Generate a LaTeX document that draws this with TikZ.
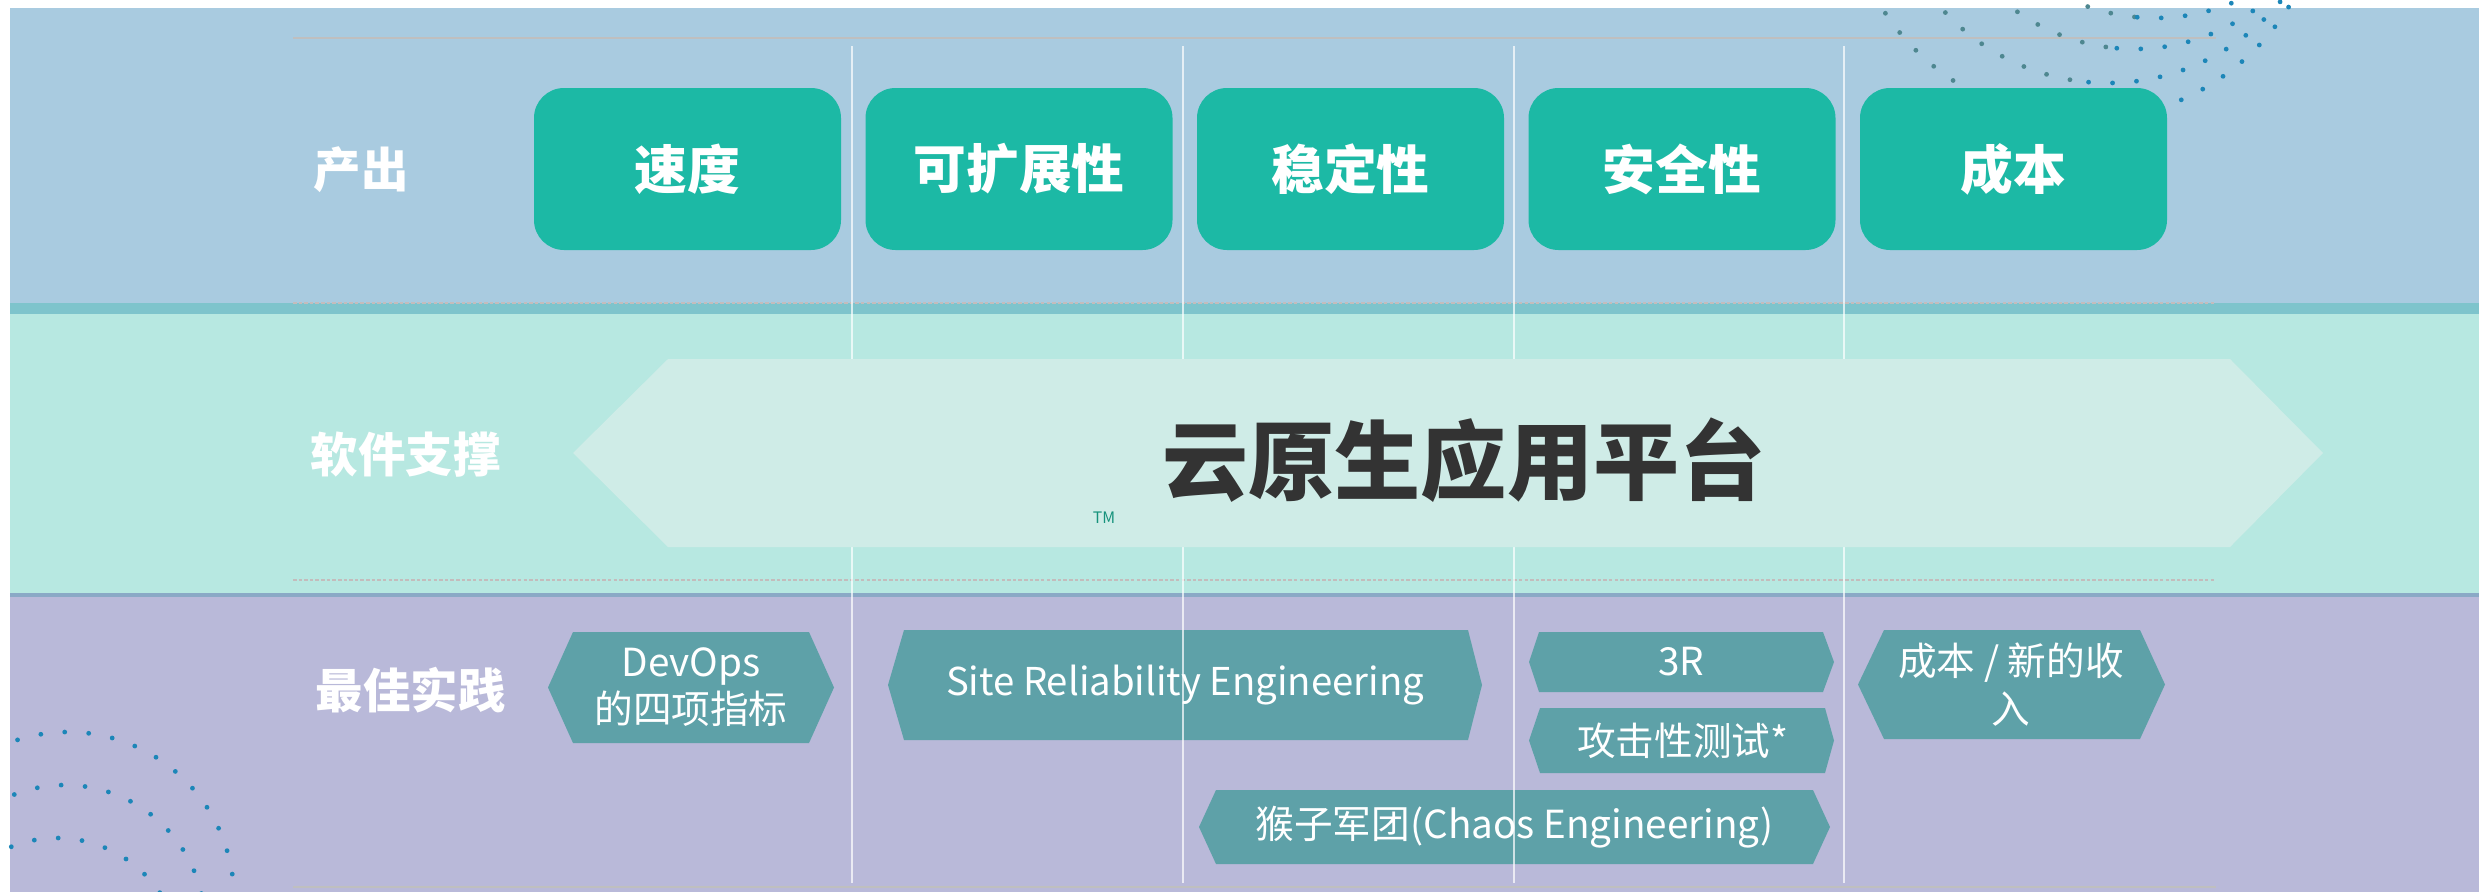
\documentclass[tikz,border=0pt]{standalone}
\usepackage{fontspec}
\setmainfont{Noto Sans CJK SC}
\usetikzlibrary{positioning}

\definecolor{topband}{HTML}{A9CBE0}
\definecolor{tealstrip}{HTML}{7EC4CC}
\definecolor{midband}{HTML}{B7E8E1}
\definecolor{steelstrip}{HTML}{8AA9C6}
\definecolor{lowband}{HTML}{B9B9D9}
\definecolor{platformfill}{HTML}{CFECE7}
\definecolor{outfill}{HTML}{1CB9A5}
\definecolor{pracfill}{HTML}{5EA1A8}
\definecolor{linegray}{HTML}{BFBFBF}
\definecolor{dashgray}{HTML}{C4BCBC}
\definecolor{dotgray}{HTML}{4E8790}
\definecolor{dotblue}{HTML}{1C86B8}
\definecolor{tmgreen}{HTML}{16927C}
\definecolor{titlegray}{HTML}{333333}

\tikzset{
  rowlabel/.style={text=white,anchor=west,inner sep=0pt,font=\bfseries\fontsize{13.5}{16}\selectfont},
  outbox/.style={fill=outfill,rounded corners=0.3cm,minimum width=3.07cm,minimum height=1.62cm,
    inner sep=0pt,outer sep=0pt,text=white,font=\bfseries\fontsize{15}{18}\selectfont},
  practext/.style={text=white,align=center,inner sep=0pt,font=\fontsize{11}{13.5}\selectfont},
  dotring/.style={line width=0.048cm,line cap=round,dash pattern=on 0pt off 0.24cm},
  colline/.style={draw=white,draw opacity=0.7,line width=0.4pt},
}

\begin{document}
\begin{tikzpicture}
\useasboundingbox (0,0) rectangle (24.79,-8.92);
% three bands
\fill[topband] (0.10,-0.08) rectangle (24.79,-3.03);
\fill[tealstrip] (0.10,-3.03) rectangle (24.79,-3.14);
\fill[midband] (0.10,-3.14) rectangle (24.79,-5.93);
\fill[steelstrip] (0.10,-5.93) rectangle (24.79,-5.97);
\fill[lowband] (0.10,-5.97) rectangle (24.79,-8.92);

\draw[linegray,line width=0.6pt] (2.93,-0.38) -- (22.16,-0.38);
\draw[linegray,line width=0.6pt] (2.93,-8.87) -- (22.16,-8.87);
\draw[dashgray,line width=0.6pt,dash pattern=on 1pt off 0.6pt] (2.93,-3.03) -- (22.16,-3.03);
\draw[dashgray,line width=0.6pt,dash pattern=on 1pt off 0.6pt] (2.93,-5.80) -- (22.16,-5.80);

% dotted rings
\draw[dotring,dotgray] (21.55,1.86) ++(244:2.04) arc[start angle=244,end angle=265,radius=2.04];
\draw[dotring,dotblue] (21.55,1.86) ++(265:2.04) arc[start angle=265,end angle=297,radius=2.04];
\draw[dotring,dotgray] (21.345,1.54) ++(228:2.03) arc[start angle=228,end angle=265,radius=2.03];
\draw[dotring,dotblue] (21.345,1.54) ++(265:2.03) arc[start angle=265,end angle=312,radius=2.03];
\draw[dotring,dotgray] (21.08,1.40) ++(217:2.23) arc[start angle=217,end angle=265,radius=2.23];
\draw[dotring,dotblue] (21.08,1.40) ++(265:2.23) arc[start angle=265,end angle=323,radius=2.23];
\draw[dotring,dotgray] (20.85,1.20) ++(208:2.40) arc[start angle=208,end angle=265,radius=2.40];
\draw[dotring,dotblue] (20.85,1.20) ++(265:2.40) arc[start angle=265,end angle=332,radius=2.40];
\draw[dotring,dotblue] (0.68,-8.98) ++(0:1.66) arc[start angle=0,end angle=112,radius=1.66];
\draw[dotring,dotblue] (0.65,-9.25) ++(13:1.40) arc[start angle=13,end angle=112,radius=1.40];
\draw[dotring,dotblue] (0.57,-9.62) ++(34:1.24) arc[start angle=34,end angle=112,radius=1.24];

% best practices
\fill[pracfill] (5.48,-6.875) -- (5.73,-6.32) -- (8.09,-6.32) -- (8.34,-6.875) -- (8.09,-7.43) -- (5.73,-7.43) -- cycle;
\fill[pracfill] (8.88,-6.85) -- (9.04,-6.30) -- (14.68,-6.30) -- (14.82,-6.85) -- (14.68,-7.40) -- (9.04,-7.40) -- cycle;
\fill[pracfill] (15.29,-6.62) -- (15.39,-6.32) -- (18.23,-6.32) -- (18.34,-6.62) -- (18.23,-6.92) -- (15.39,-6.92) -- cycle;
\fill[pracfill] (15.29,-7.405) -- (15.40,-7.08) -- (18.25,-7.08) -- (18.34,-7.405) -- (18.25,-7.73) -- (15.40,-7.73) -- cycle;
\fill[pracfill] (11.99,-8.27) -- (12.16,-7.90) -- (18.13,-7.90) -- (18.30,-8.27) -- (18.13,-8.64) -- (12.16,-8.64) -- cycle;
\fill[pracfill] (18.58,-6.845) -- (18.84,-6.30) -- (21.40,-6.30) -- (21.65,-6.845) -- (21.40,-7.39) -- (18.84,-7.39) -- cycle;
\node[practext] (devops) at (6.91,-6.87) {DevOps\\的四项指标};
\node[practext,font=\fontsize{10.9}{13.5}\selectfont] (sre) at (11.85,-6.85) {Site Reliability Engineering};
\node[practext] (threer) at (16.815,-6.62) {3R};
\node[practext] (attack) at (16.83,-7.405) {攻击性测试*};
\node[practext] (chaos) at (15.145,-8.27) {猴子军团(Chaos Engineering)};
\node[practext] (revenue) at (20.11,-6.845) {成本 / 新的收\\入};

% column rules
\foreach \x in {8.52,11.83,15.14,18.44}
  \draw[colline] (\x,-0.46) -- (\x,-8.83);

% platform banner
\fill[platformfill] (5.73,-4.53) -- (6.68,-3.59) -- (22.30,-3.59) -- (23.23,-4.53) -- (22.30,-5.47) -- (6.68,-5.47) -- cycle;
\node[text=titlegray,font=\bfseries\fontsize{24.5}{28}\selectfont] (platform) at (14.64,-4.60) {云原生应用平台};
\node[text=tmgreen,font=\fontsize{4.5}{5}\selectfont,inner sep=0pt] (tm) at (11.04,-5.18) {TM};

% outcomes
\node[outbox] (speed) at (6.875,-1.69) {速度};
\node[outbox,right=0.245cm of speed] (scaling) {可扩展性};
\node[outbox,right=0.245cm of scaling] (stability) {稳定性};
\node[outbox,right=0.245cm of stability] (security) {安全性};
\node[outbox,right=0.245cm of security] (cost) {成本};

% row labels
\node[rowlabel] (output) at (3.13,-1.70) {产出};
\node[rowlabel] (support) at (3.10,-4.55) {软件支撑};
\node[rowlabel] (practice) at (3.15,-6.90) {最佳实践};
\end{tikzpicture}
\end{document}
